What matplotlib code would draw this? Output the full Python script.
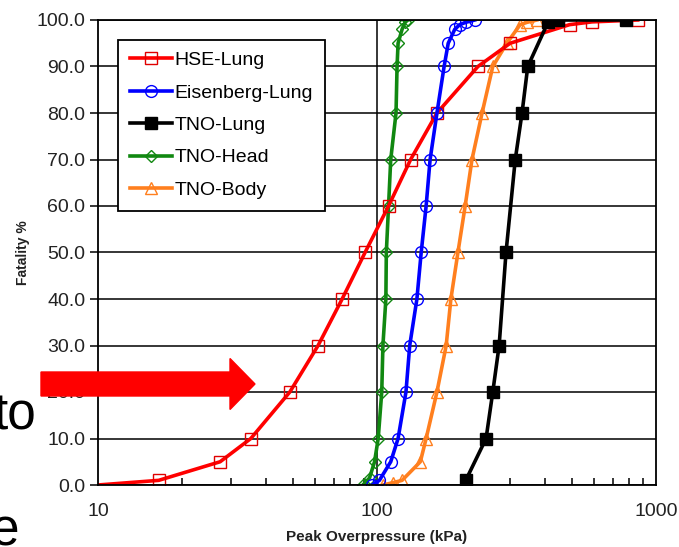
import matplotlib
matplotlib.use("Agg")
import matplotlib.pyplot as plt
from matplotlib.ticker import FixedLocator, LogLocator, NullFormatter, FuncFormatter
from matplotlib.patches import FancyArrow

plt.rcParams['font.family'] = ['Liberation Sans', 'DejaVu Sans']

# ---------------- data ----------------
hse_x = [10, 16.5, 27.4, 35.3, 48.7, 61.5, 75, 90.6, 110, 132, 164, 230, 300, 490, 590, 860]
hse_y = [0, 1, 5, 10, 20, 30, 40, 50, 60, 70, 80, 90, 95, 99, 99.6, 100]

eis_x = [96, 102, 112, 119, 127, 131, 139, 144, 150, 155, 164, 174, 180, 190, 198, 208, 224]
eis_y = [0, 1, 5, 10, 20, 30, 40, 50, 60, 70, 80, 90, 95, 98, 99, 99.5, 100]

lung_x = [208, 246, 260, 274, 290, 313, 331, 347, 410, 445, 780]
lung_y = [1, 10, 20, 30, 50, 70, 80, 90, 99.5, 100, 100]

head_x = [89, 94, 98, 101, 104, 105, 107.6, 108, 110, 112, 117, 118, 119, 123, 126, 129]
head_y = [0, 1.5, 5, 10, 20, 30, 40, 50, 60, 70, 80, 90, 95, 98, 99.5, 100]

body_x = [105, 114, 123, 143, 150, 164, 177, 184, 195, 207, 219, 238, 260, 292, 326, 345, 374]
body_y = [0, 0.5, 1, 5, 10, 20, 30, 40, 50, 60, 70, 80, 90, 95, 99, 99.5, 100]

series_names = ["HSE-Lung", "Eisenberg-Lung", "TNO-Lung", "TNO-Head", "TNO-Body"]
y_ticks = [0, 10, 20, 30, 40, 50, 60, 70, 80, 90, 100]
x_ticks = [10, 100, 1000]
x_label = "Peak Overpressure (kPa)"
y_label = "Fatality %"

# ---------------- figure ----------------
W, H = 679, 547
fig = plt.figure(figsize=(W / 100, H / 100), dpi=100)
L, R, T, B = 98, 656, 20, 485
ax = fig.add_axes([L / W, 1 - B / H, (R - L) / W, (B - T) / H])

ax.set_xscale('log')
ax.set_xlim(10, 1000)
ax.set_ylim(0, 100)

for y in y_ticks:
    ax.axhline(y, color='black', lw=1.1, zorder=1)
ax.axvline(100, color='black', lw=1.1, zorder=1)

lw = 2.6
ms = 8
ax.plot(body_x, body_y, color='#FF7F1E', lw=lw, marker='^', ms=ms, mfc='none',
        mec='#FF7F1E', mew=1.0, label=series_names[4], zorder=3)
ax.plot(hse_x, hse_y, color='#FF0000', lw=lw, marker='s', ms=ms, mfc='none',
        mec='#E00000', mew=1.0, label=series_names[0], markevery=list(range(1, len(hse_x))), zorder=4)
ax.plot(head_x, head_y, color='#118811', lw=lw, marker='D', ms=6.5, mfc='none',
        mec='#118811', mew=1.0, label=series_names[3], zorder=3)
ax.plot(eis_x, eis_y, color='#0000FF', lw=lw, marker='o', ms=8.5, mfc='none',
        mec='#0000FF', mew=1.0, label=series_names[1], zorder=4)
ax.plot(lung_x, lung_y, color='black', lw=lw, marker='s', ms=ms, mfc='black',
        mec='black', label=series_names[2], zorder=5)

for s in ax.spines.values():
    s.set_color('black')
    s.set_linewidth(1.3)
    s.set_zorder(6)

ax.yaxis.set_major_locator(FixedLocator(y_ticks))
ax.yaxis.set_major_formatter(FuncFormatter(lambda v, p: f"{v:.1f}"))
ax.xaxis.set_major_locator(FixedLocator(x_ticks))
ax.xaxis.set_major_formatter(FuncFormatter(lambda v, p: f"{int(v)}"))
ax.xaxis.set_minor_locator(LogLocator(base=10, subs=range(2, 10)))
ax.xaxis.set_minor_formatter(NullFormatter())
ax.tick_params(axis='y', which='major', direction='out', length=6, width=1.1,
               labelsize=14, colors='black', labelcolor='#222222', pad=3)
ax.tick_params(axis='x', which='major', length=0, labelsize=14, labelcolor='#222222', pad=13)
ax.tick_params(axis='x', which='minor', direction='in', length=5, width=1.1, colors='black')

ax.set_xlabel(x_label, fontsize=11, fontweight='bold', color='#222222')
ax.set_ylabel(y_label, fontsize=10, fontweight='bold', color='#222222')
ax.xaxis.set_label_coords(0.5, (B - 530) / (B - T))
ax.yaxis.set_label_coords((30 - L) / (R - L), 0.5)

handles, labels = ax.get_legend_handles_labels()
order = [labels.index(n) for n in series_names]
leg = ax.legend([handles[i] for i in order], [labels[i] for i in order],
                loc='upper left', bbox_to_anchor=(118 / W, 1 - 40 / H),
                bbox_transform=fig.transFigure, fontsize=14, frameon=True,
                fancybox=False, edgecolor='black', framealpha=1,
                handlelength=2.2, handletextpad=0.1, labelspacing=0.76,
                borderpad=0.6, borderaxespad=0)
leg.get_frame().set_linewidth(1.3)
leg.set_zorder(10)

# slide overlay: red arrow and cut-off text
arrow = FancyArrow(41 / W, 1 - 384 / H, (255 - 41) / W, 0, width=24 / H,
                   head_width=51 / H, head_length=25 / W, length_includes_head=True,
                   transform=fig.transFigure, color='#FF0000', zorder=20)
fig.patches.append(arrow)
fig.text(36 / W, 1 - 430 / H, "to", fontsize=37, ha='right', va='baseline', color='black')
fig.text(19 / W, 1 - 545 / H, "e", fontsize=37, ha='right', va='baseline', color='black')

fig.savefig("out.png", dpi=100)
